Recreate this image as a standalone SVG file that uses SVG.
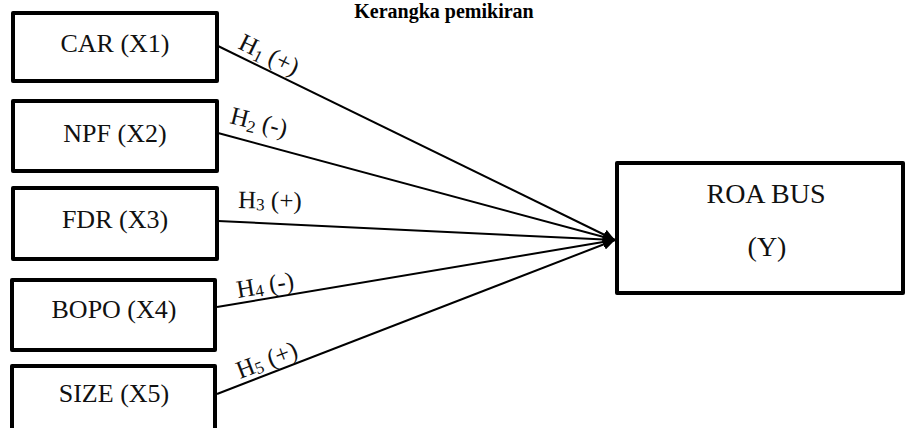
<svg xmlns="http://www.w3.org/2000/svg" width="906" height="428" viewBox="0 0 906 428">
  <style>
    .box { fill: #ffffff; stroke: #000000; stroke-width: 4; stroke-linejoin: round; }
    .lbl { font-family: "Liberation Serif", "Times New Roman", serif; font-size: 26px; fill: #111111; text-anchor: middle; }
    .big { font-family: "Liberation Serif", "Times New Roman", serif; font-size: 28px; fill: #111111; text-anchor: middle; }
    .h { font-family: "Liberation Serif", "Times New Roman", serif; font-size: 25px; fill: #111111; }
    .sub { font-size: 17px; }
    .title { font-family: "Liberation Serif", "Times New Roman", serif; font-size: 20px; font-weight: bold; fill: #000000; text-anchor: middle; }
    .conn { stroke: #000000; stroke-width: 2; fill: none; }
  </style>
  <defs>
    <marker id="arrow" markerUnits="userSpaceOnUse" markerWidth="13" markerHeight="11" refX="12" refY="5.5" orient="auto">
      <path d="M0,0 L12,5.5 L0,11 z" fill="#000000"/>
    </marker>
  </defs>
  <rect x="0" y="0" width="906" height="428" fill="#ffffff"/>
  <text class="title" x="444" y="18">Kerangka pemikiran</text>

  <g id="connectors">
    <line class="conn" x1="218" y1="46" x2="615" y2="240" marker-end="url(#arrow)"/>
    <line class="conn" x1="218" y1="133" x2="615" y2="240" marker-end="url(#arrow)"/>
    <line class="conn" x1="218" y1="221" x2="615" y2="240" marker-end="url(#arrow)"/>
    <line class="conn" x1="217" y1="307" x2="615" y2="240" marker-end="url(#arrow)"/>
    <line class="conn" x1="217" y1="394" x2="615" y2="240" marker-end="url(#arrow)"/>
    <text class="h" transform="translate(237,48) rotate(26)">H<tspan class="sub" dy="4">1</tspan><tspan dy="-4"> (+)</tspan></text>
    <text class="h" transform="translate(229,123) rotate(14)">H<tspan class="sub" dy="4">2</tspan><tspan dy="-4"> (-)</tspan></text>
    <text class="h" transform="translate(238,208) rotate(1)">H<tspan class="sub" dy="2">3</tspan><tspan dy="-2"> (+)</tspan></text>
    <text class="h" transform="translate(238,298) rotate(-9.5)">H<tspan class="sub" dy="2">4</tspan><tspan dy="-2"> (-)</tspan></text>
    <text class="h" transform="translate(240,379) rotate(-21)">H<tspan class="sub" dy="2">5</tspan><tspan dy="-2"> (+)</tspan></text>
  </g>

  <g id="car">
    <rect class="box" x="13" y="13" width="204" height="68"/>
    <text class="lbl" x="115" y="52">CAR (X1)</text>
  </g>
  <g id="npf">
    <rect class="box" x="13" y="101" width="204" height="70"/>
    <text class="lbl" x="115" y="142">NPF (X2)</text>
  </g>
  <g id="fdr">
    <rect class="box" x="13" y="188" width="204" height="71"/>
    <text class="lbl" x="115" y="228">FDR (X3)</text>
  </g>
  <g id="bopo">
    <rect class="box" x="12" y="280" width="203" height="70"/>
    <text class="lbl" x="114" y="318">BOPO (X4)</text>
  </g>
  <g id="size">
    <rect class="box" x="12" y="366" width="203" height="80"/>
    <text class="lbl" x="114" y="402">SIZE (X5)</text>
  </g>
  <g id="roa">
    <rect class="box" x="617" y="163" width="286" height="130"/>
    <text class="big" x="766" y="203">ROA BUS</text>
    <text class="big" x="767" y="256">(Y)</text>
  </g>
</svg>
